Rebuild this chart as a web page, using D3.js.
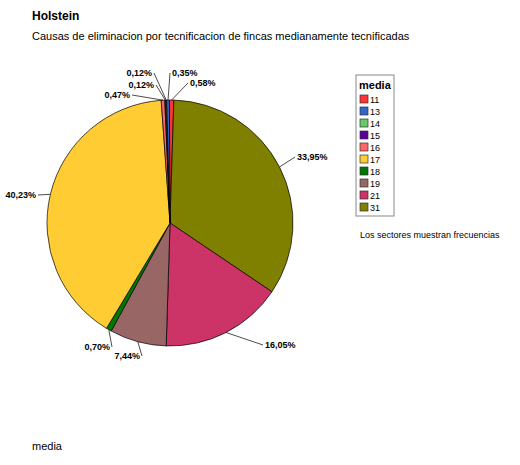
<!DOCTYPE html><html><head><script src="https://cdn.jsdelivr.net/npm/d3@7"></script>
<style>body{margin:0;background:#fff;font-family:Arial,"Liberation Sans",sans-serif}</style></head><body>
<svg id="c" width="520" height="465"></svg>
<script>
const categories=["11","13","14","15","16","17","18","19","21","31"];
const values=[0.58,0.35,0.12,0.12,0.47,40.23,0.70,7.44,16.05,33.95];
const colors=["#ff3333","#3366cc","#66cc66","#5c0099","#ff6666","#ffcc33","#007700","#996666","#cc3366","#808000"];
const svg=d3.select("#c");
svg.append("text").attr("x",32).attr("y",20).attr("font-weight","bold").attr("font-size",12).text("Holstein");
svg.append("text").attr("x",32).attr("y",40).attr("font-size",11).text("Causas de eliminacion por tecnificacion de fincas medianamente  tecnificadas");
svg.append("text").attr("x",32).attr("y",450).attr("font-size",11).text("media");
svg.append("text").attr("x",360).attr("y",238).attr("font-size",9).text("Los sectores muestran frecuencias");
const cx=170,cy=223,r=123;
const data=categories.map((c,i)=>({c,v:values[i],col:colors[i]}));
const order=[0,9,8,7,6,5,4,3,2,1].map(i=>data[i]);
const pie=d3.pie().sort(null).value(d=>d.v).startAngle(-0.005).endAngle(2*Math.PI-0.005);
const arcs=pie(order);
const arc=d3.arc().innerRadius(0).outerRadius(r);
const g=svg.append("g").attr("transform",`translate(${cx},${cy})`);
g.selectAll("path").data(arcs).join("path").attr("d",arc).attr("fill",d=>d.data.col).attr("stroke","#000").attr("stroke-width",0.7);
const fmt=v=>v.toFixed(2).replace(".",",")+"%";
// label end positions (relative) for leader lines
const lab={"11":[18,-140,"start"],"31":[125,-66,"start"],"21":[93,122,"start"],"19":[-28,133,"end"],"18":[-58,124,"end"],"17":[-132,-28,"end"],"16":[-38,-128,"end"],"15":[-14,-138,"end"],"14":[-16,-150,"end"],"13":[0,-150,"start"]};
arcs.forEach(a=>{
  const m=(a.startAngle+a.endAngle)/2;
  const x0=Math.sin(m)*r,y0=-Math.cos(m)*r;
  const L=lab[a.data.c];
  g.append("line").attr("x1",x0).attr("y1",y0).attr("x2",L[0]).attr("y2",L[1]).attr("stroke","#000").attr("stroke-width",0.7);
  g.append("text").attr("x",L[0]+(L[2]=="start"?2:-2)).attr("y",L[1]+3).attr("text-anchor",L[2]).attr("font-size",9).attr("font-weight","bold").text(fmt(a.data.v));
});
const lg=svg.append("g").attr("transform","translate(356,75)");
lg.append("rect").attr("width",38).attr("height",141).attr("fill","#fff").attr("stroke","#888");
lg.append("text").attr("x",3).attr("y",14).attr("font-weight","bold").attr("font-size",11).text("media");
data.forEach((d,i)=>{
  const y=20+i*12;
  lg.append("rect").attr("x",4).attr("y",y).attr("width",8).attr("height",8).attr("fill",d.col).attr("stroke","#333").attr("stroke-width",0.7);
  lg.append("text").attr("x",14).attr("y",y+8).attr("font-size",9).text(d.c);
});
</script></body></html>
